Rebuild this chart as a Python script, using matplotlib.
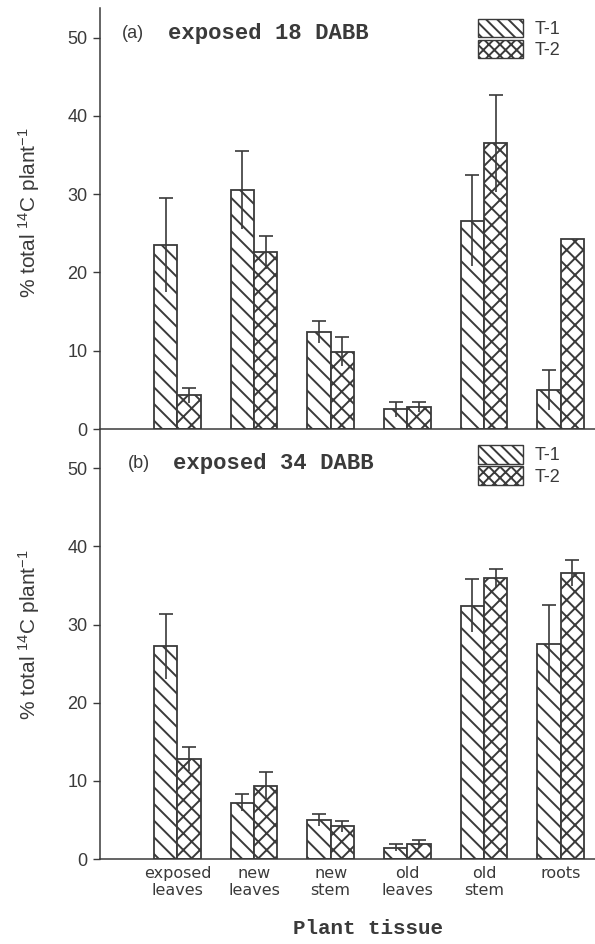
import numpy as np
import matplotlib
matplotlib.use("Agg")
import matplotlib.pyplot as plt
from matplotlib.patches import Patch

# data
tissues = ["exposed\nleaves", "new\nleaves", "new\nstem", "old\nleaves", "old\nstem", "roots"]

t1_18 = [23.5, 30.5, 12.4, 2.5, 26.6, 5.0]
t1_18_err = [6.0, 5.0, 1.4, 1.0, 5.8, 2.6]
t2_18 = [4.3, 22.6, 9.9, 2.8, 36.5, 24.3]
t2_18_err = [1.0, 2.1, 1.9, 0.6, 6.2, 0.0]

t1_34 = [27.2, 7.2, 5.0, 1.45, 32.4, 27.5]
t1_34_err = [4.2, 1.1, 0.8, 0.45, 3.4, 5.0]
t2_34 = [12.8, 9.4, 4.2, 1.9, 35.9, 36.6]
t2_34_err = [1.5, 1.7, 0.7, 0.5, 1.2, 1.7]

ink = "#3a3a3a"
plt.rcParams["hatch.linewidth"] = 1.4
plt.rcParams["mathtext.default"] = "regular"
plt.rcParams["font.family"] = "Liberation Sans"

fig = plt.figure(figsize=(5.95, 9.44), dpi=100)
ax1 = fig.add_axes([100 / 595, 1 - 429 / 944, 495 / 595, 421 / 944])
ax2 = fig.add_axes([100 / 595, 1 - 859 / 944, 495 / 595, 429 / 944])

x = np.arange(len(tissues))
w = 0.305


def draw_panel(ax, v1, e1, v2, e2, tag, title, ytop, leg_y):
    v1, e1, v2, e2 = map(np.array, (v1, e1, v2, e2))
    ax.bar(x - w / 2, v1, w, color="white", edgecolor=ink, lw=1.3, hatch="\\\\", zorder=2)
    ax.bar(x + w / 2, v2, w, color="white", edgecolor=ink, lw=1.3, hatch="xx", zorder=2)
    for xs, v, e in [(x - w / 2, v1, e1), (x + w / 2, v2, e2)]:
        m = e > 0
        ax.errorbar(xs[m], v[m], yerr=e[m], fmt="none", ecolor=ink, elinewidth=1.2, capsize=0, zorder=3)
        ax.plot(xs[m], v[m] + e[m], ls="none", marker="_", ms=10, mew=1.2, color=ink, zorder=3)

    ax.set_xlim(-1.01, 5.45)
    ax.set_ylim(0, ytop)
    ax.set_yticks([0, 10, 20, 30, 40, 50])
    ax.tick_params(axis="y", direction="out", length=5, width=1, color=ink,
                   labelsize=13, labelcolor=ink, pad=4)
    for s in ["top", "right"]:
        ax.spines[s].set_visible(False)
    ax.spines["left"].set_color(ink)
    ax.spines["bottom"].set_color(ink)
    ax.spines["left"].set_linewidth(1.1)
    ax.spines["bottom"].set_linewidth(1.1)

    ax.set_ylabel(r"% total $^{14}$C plant$^{-1}$", fontsize=15, color=ink)

    ax.text(tag[0], tag[2], tag[3], transform=ax.transAxes, fontsize=13, color=ink, va="center")
    ax.text(tag[1], tag[2], title, transform=ax.transAxes, fontsize=16,
            family="Liberation Mono", weight="bold", color=ink, va="center")

    handles = [Patch(facecolor="white", edgecolor=ink, hatch="\\\\\\", label="T-1"),
               Patch(facecolor="white", edgecolor=ink, hatch="xxx", label="T-2")]
    ax.legend(handles=handles, loc="upper left", bbox_to_anchor=(0.764, leg_y),
              frameon=False, fontsize=13, handlelength=2.5, handleheight=1.2,
              labelspacing=0.1, handletextpad=0.6, borderpad=0, borderaxespad=0,
              labelcolor=ink)


draw_panel(ax1, t1_18, t1_18_err, t2_18, t2_18_err, (0.044, 0.137, 0.94, "(a)"),
           "exposed 18 DABB", 53.8, 0.975)
draw_panel(ax2, t1_34, t1_34_err, t2_34, t2_34_err, (0.057, 0.147, 0.923, "(b)"),
           "exposed 34 DABB", 54.9, 0.965)

ax1.set_xticks([])
ax1.yaxis.set_label_coords(-0.118, 0.513)
ax2.spines["top"].set_visible(False)
ax2.yaxis.set_label_coords(-0.118, 0.522)

ax2.set_xticks(x)
ax2.set_xticklabels(tissues, family="DejaVu Sans", fontsize=11.5, color=ink, linespacing=1.15)
ax2.tick_params(axis="x", length=0, pad=5)
ax2.set_xlabel("Plant tissue", family="Liberation Mono", weight="bold", fontsize=15, color=ink)
ax2.xaxis.set_label_coords(0.541, -0.14)

fig.savefig("out.png", dpi=100)
